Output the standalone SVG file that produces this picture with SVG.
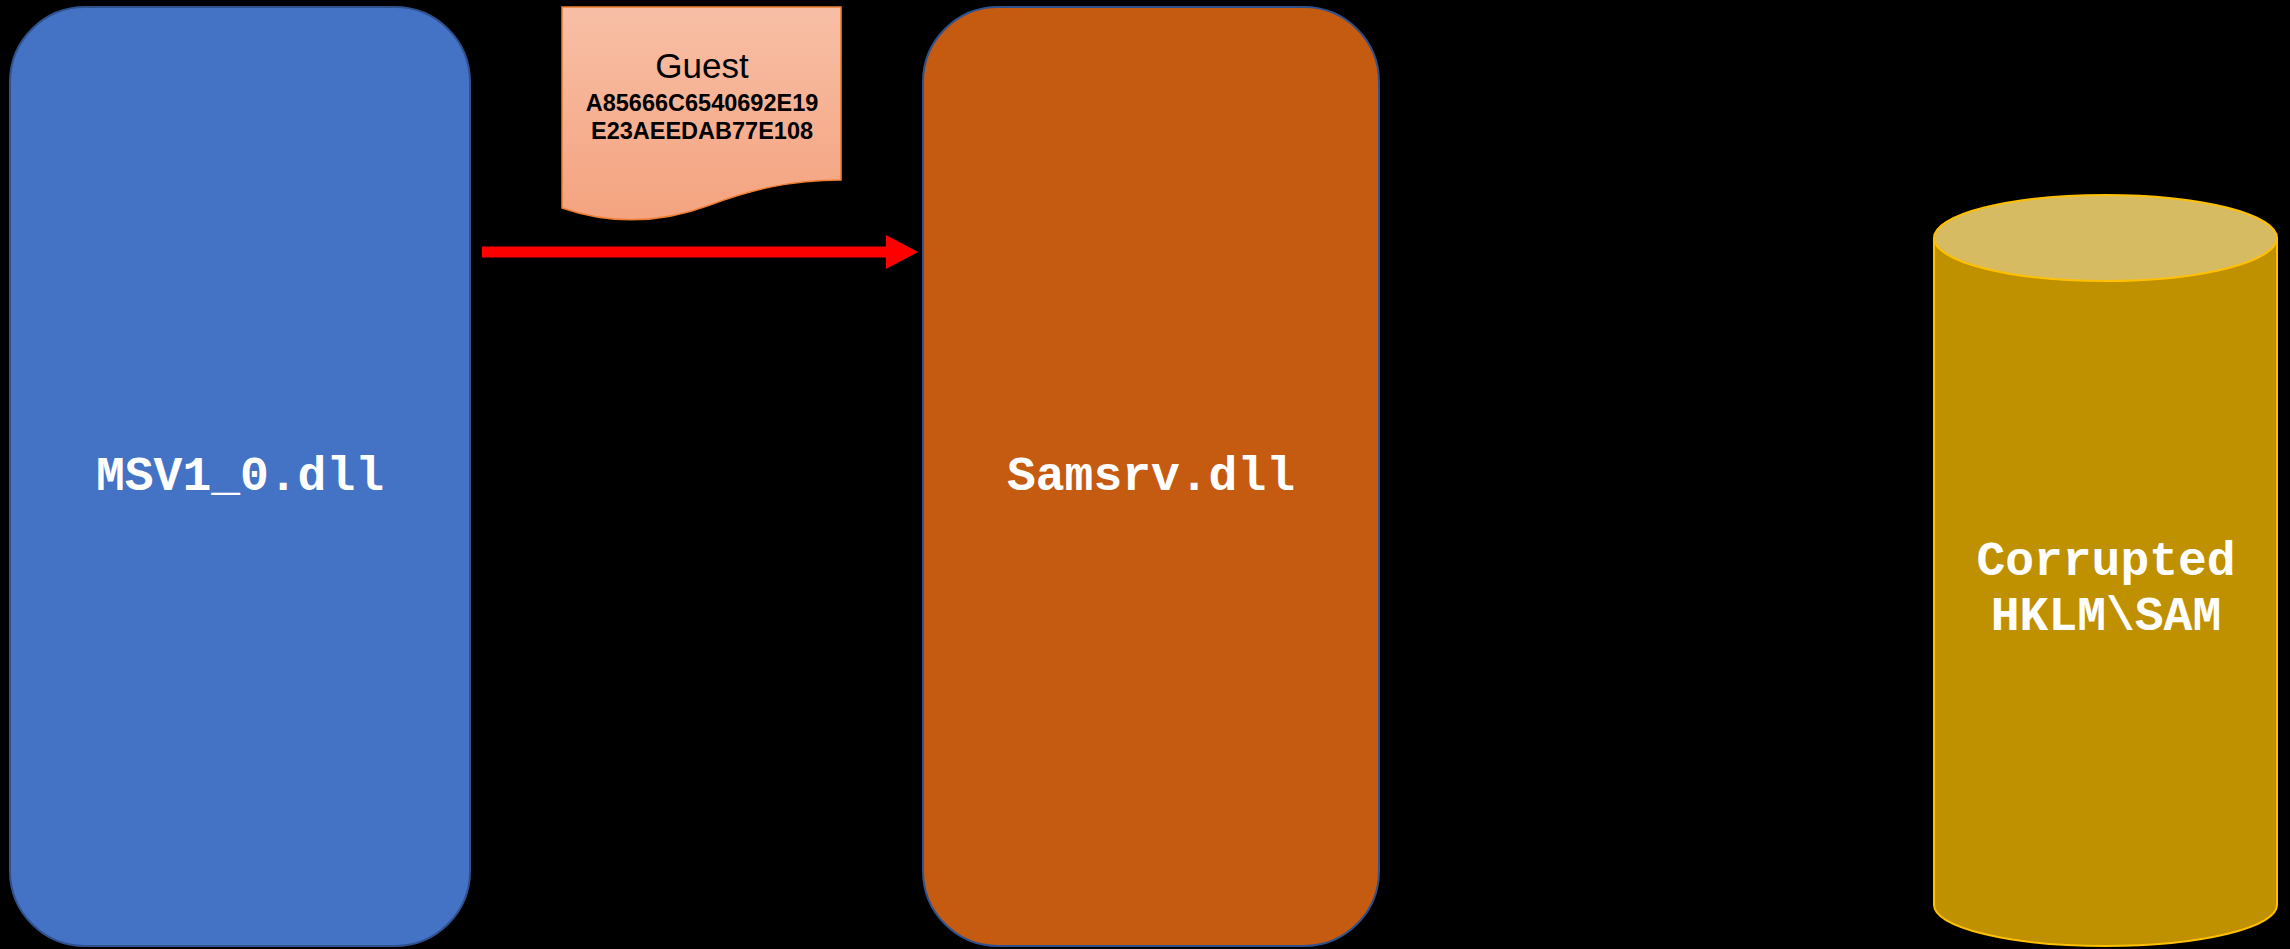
<svg xmlns="http://www.w3.org/2000/svg" width="2290" height="949" viewBox="0 0 2290 949">
<defs>
<linearGradient id="docg" x1="0" y1="0" x2="0" y2="1">
<stop offset="0" stop-color="#F8BFA6"/>
<stop offset="1" stop-color="#F4A37F"/>
</linearGradient>
</defs>
<style>
.lbl{font-family:"Liberation Mono","Courier New",monospace;font-weight:bold;font-size:48px;fill:#FFFFFF;text-anchor:middle}
.doc{font-family:"Liberation Sans",Arial,sans-serif;fill:#000000;text-anchor:middle}
</style>
<rect x="0" y="0" width="2290" height="949" fill="#000000"/>
<g id="msv">
<rect x="10" y="7" width="460" height="939" rx="75" ry="75" fill="#4472C4" stroke="#2F528F" stroke-width="2"/>
<text class="lbl" x="240" y="490">MSV1_0.dll</text>
</g>
<g id="samsrv">
<rect x="923" y="7" width="456" height="939" rx="75" ry="75" fill="#C55A11" stroke="#2F528F" stroke-width="2"/>
<text class="lbl" x="1151" y="490">Samsrv.dll</text>
</g>
<g id="sam">
<path d="M1934,238 V905 A171.5,41 0 0 0 2277,905 V238 Z" fill="#BF9000" stroke="#FFC000" stroke-width="2"/>
<ellipse cx="2105.5" cy="238" rx="171.5" ry="43" fill="#D7BB62" stroke="#FFC000" stroke-width="2"/>
<text class="lbl" x="2106" y="575">Corrupted</text>
<text class="lbl" x="2106" y="630">HKLM\SAM</text>
</g>
<g id="guest">
<path d="M562,7 H841 V180 C790,180 750,190 710,205 C670,220 620,228 562,208 Z" fill="url(#docg)" stroke="#ED7D31" stroke-width="1.5"/>
<text class="doc" x="702" y="78" font-size="35">Guest</text>
<text class="doc" x="702" y="111" font-size="23.5" font-weight="bold">A85666C6540692E19</text>
<text class="doc" x="702" y="139" font-size="23.5" font-weight="bold">E23AEEDAB77E108</text>
</g>
<g id="connectors">
<rect x="482" y="246.5" width="406" height="11" fill="#FF0000"/>
<polygon points="886,235 918,252 886,269" fill="#FF0000"/>
</g>
</svg>
